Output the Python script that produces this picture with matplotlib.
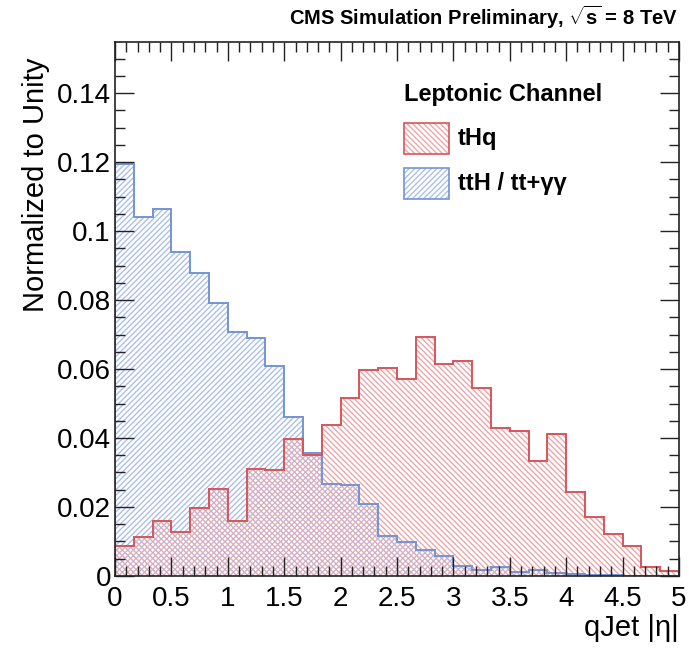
import numpy as np
import matplotlib.pyplot as plt
from matplotlib.patches import Rectangle
from matplotlib.ticker import MultipleLocator

plt.rcParams['font.family'] = ['Liberation Sans', 'DejaVu Sans']
plt.rcParams['hatch.linewidth'] = 1.0
plt.rcParams['mathtext.fontset'] = 'custom'
plt.rcParams['mathtext.rm'] = 'Liberation Sans'
plt.rcParams['mathtext.bf'] = 'Liberation Sans:bold'

# ------------------ DATA ------------------
edges = np.linspace(0, 5, 31)

thq = [0.0086, 0.0114, 0.0158, 0.0127, 0.0196, 0.0251, 0.0158, 0.0310, 0.0306, 0.0397,
       0.0352, 0.0439, 0.0516, 0.0598, 0.0603, 0.0571, 0.0692, 0.0615, 0.0622, 0.0545,
       0.0429, 0.0419, 0.0334, 0.0412, 0.0243, 0.0170, 0.0122, 0.0088, 0.0025, 0.0013]

tth = [0.1194, 0.1042, 0.1065, 0.0938, 0.0877, 0.0791, 0.0708, 0.0690, 0.0610, 0.0460,
       0.0356, 0.0267, 0.0264, 0.0209, 0.0117, 0.0098, 0.0074, 0.0059, 0.0028, 0.0018,
       0.0027, 0.0012, 0.0018, 0.0010, 0.0005, 0.0003, 0.0002, 0.0001, 0.0001, 0.0]

red_line, red_hatch = '#d9545a', '#eda6a9'
blue_line, blue_hatch = '#7394d6', '#adc0ea'

# ------------------ FIGURE ------------------
fig = plt.figure(figsize=(6.89, 6.52), dpi=100)
ax = fig.add_axes([0.167, 0.1166, 0.8185, 0.819])

ax.stairs(tth, edges, fill=True, facecolor='none', edgecolor=blue_hatch,
          hatch='//////', linewidth=0)
ax.stairs(thq, edges, fill=True, facecolor='none', edgecolor=red_hatch,
          hatch='\\\\\\\\\\\\', linewidth=0)
ax.stairs(tth, edges, color=blue_line, linewidth=1.4, baseline=0)
ax.stairs(thq, edges, color=red_line, linewidth=1.4, baseline=0)

ax.set_xlim(0, 5)
ax.set_ylim(0, 0.1548)

ax.xaxis.set_major_locator(MultipleLocator(0.5))
ax.xaxis.set_minor_locator(MultipleLocator(0.1))
ax.yaxis.set_major_locator(MultipleLocator(0.02))
ax.yaxis.set_minor_locator(MultipleLocator(0.005))
ax.xaxis.set_major_formatter(lambda v, p: f'{v:g}')
ax.yaxis.set_major_formatter(lambda v, p: f'{v:g}')

ax.tick_params(which='both', direction='in', top=True, right=True,
               labelsize=20, width=1.0, color='#222222')
ax.tick_params(which='major', length=14)
ax.tick_params(which='minor', length=7)
ax.tick_params(axis='x', pad=7)
ax.tick_params(axis='y', pad=3)
for s in ax.spines.values():
    s.set_linewidth(1.2)
    s.set_color('#222222')

ax.set_ylabel('Normalized to Unity', fontsize=21, loc='top')
ax.yaxis.set_label_coords(-0.115, 0.97)
ax.set_xlabel('qJet |η|', fontsize=21, loc='right', labelpad=2)

fig.text(0.984, 0.962, r'CMS Simulation Preliminary, $\sqrt{\mathbf{s}}$ = 8 TeV',
         fontsize=14.5, fontweight='bold', ha='right', va='baseline')

# ------------------ LEGEND ------------------
fig.text(404 / 689, 1 - 95 / 652, 'Leptonic Channel', fontsize=17,
         fontweight='bold', ha='left', va='center')
entries = [('tHq', red_line, red_hatch, '\\\\\\\\\\\\', 123),
           ('ttH / tt+γγ', blue_line, blue_hatch, '//////', 168)]
for label, lc, hc, h, ytop in entries:
    x0, y0 = 404 / 689, 1 - (ytop + 31) / 652
    w, hgt = 45 / 689, 31 / 652
    fig.patches.append(Rectangle((x0, y0), w, hgt, transform=fig.transFigure,
                                 facecolor='none', edgecolor=hc, hatch=h, linewidth=0))
    fig.patches.append(Rectangle((x0, y0), w, hgt, transform=fig.transFigure,
                                 facecolor='none', edgecolor=lc, linewidth=1.2))
    fig.text(x0 + w + 9 / 689, y0 + hgt / 2, label, fontsize=17,
             fontweight='bold', ha='left', va='center')

fig.savefig('out.png', dpi=100)
